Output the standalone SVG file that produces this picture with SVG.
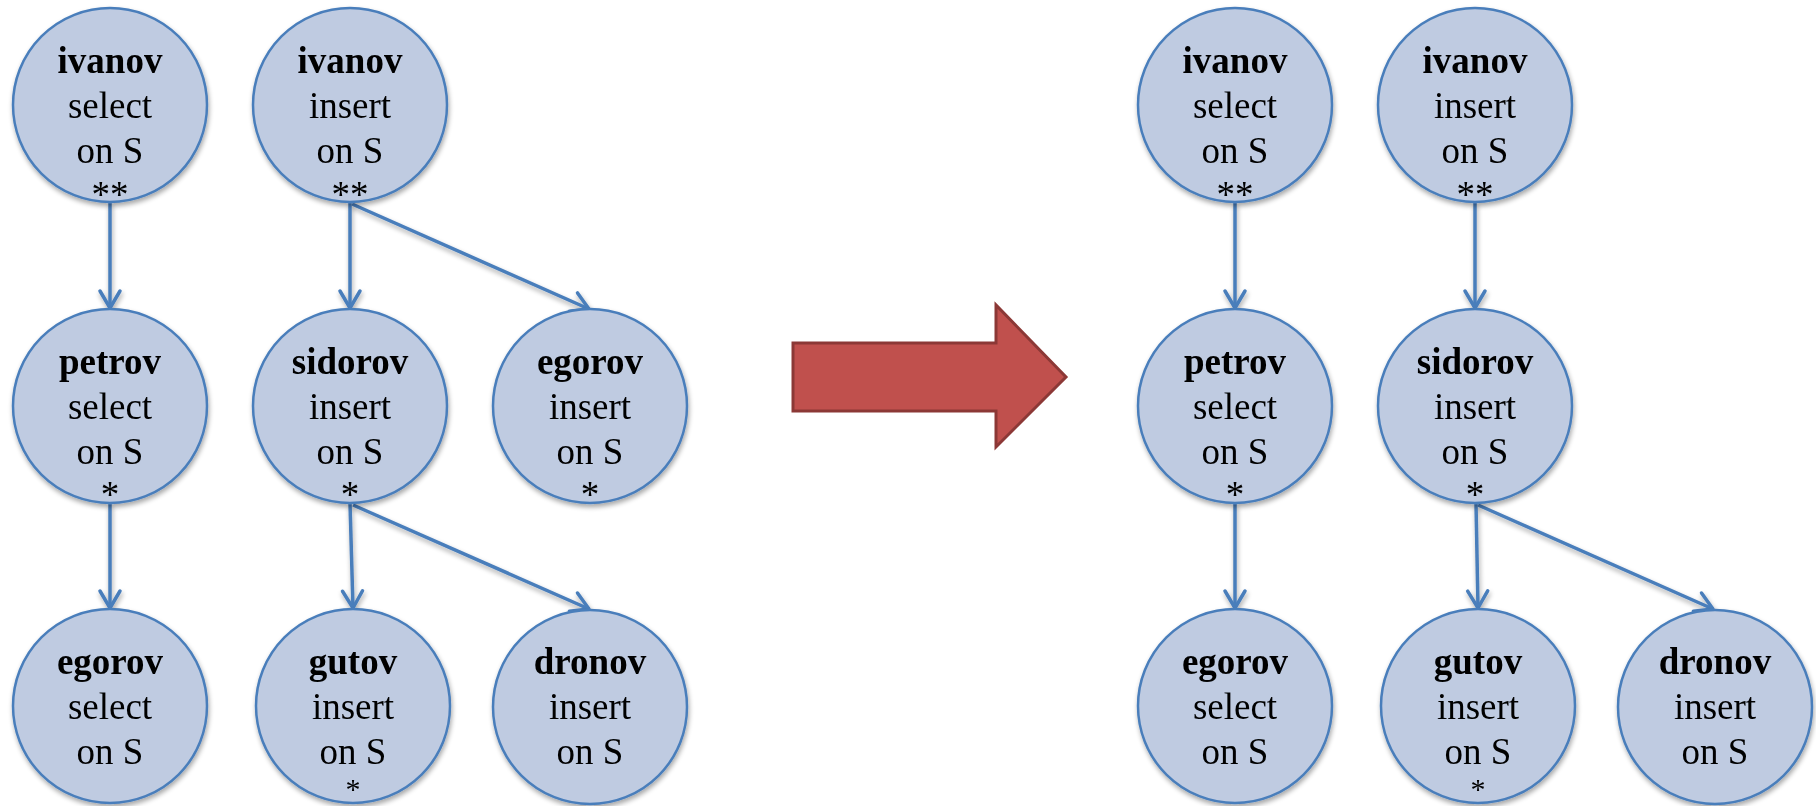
<svg xmlns="http://www.w3.org/2000/svg" width="1816" height="806" viewBox="0 0 1816 806">
  <style>
    .node circle { fill: #BFCBE1; stroke: #4A7EBB; stroke-width: 2.5; }
    .node text { font-size: 37px; fill: #000; text-anchor: middle; }
    .node text.name { font-weight: bold; }
    .node text.low { font-size: 30px; }
    .edge { stroke: #4A7EBB; stroke-width: 3.5; fill: none; marker-end: url(#open); }
  </style>
  <defs>
    <filter id="shadow" x="-20%" y="-20%" width="140%" height="140%">
      <feGaussianBlur in="SourceAlpha" stdDeviation="2.5"/>
      <feOffset dx="1" dy="3" result="blur"/>
      <feComponentTransfer><feFuncA type="linear" slope="0.35"/></feComponentTransfer>
      <feMerge><feMergeNode/><feMergeNode in="SourceGraphic"/></feMerge>
    </filter>
    <marker id="open" viewBox="-22 -13 26 26" refX="0" refY="0" markerWidth="26" markerHeight="26" markerUnits="userSpaceOnUse" orient="auto">
      <path d="M-17,-10 L0,0 L-17,10" fill="none" stroke="#4A7EBB" stroke-width="3.5" stroke-linecap="round" stroke-linejoin="round"/>
    </marker>
  </defs>

  <!-- connectors -->
  <g id="connectors" filter="url(#shadow)">
    <line class="edge" x1="110" y1="202" x2="110" y2="308"/>
    <line class="edge" x1="110" y1="503" x2="110" y2="608"/>
    <line class="edge" x1="350" y1="202" x2="350" y2="308"/>
    <line class="edge" x1="352" y1="204" x2="589" y2="309"/>
    <line class="edge" x1="350" y1="503" x2="353" y2="608"/>
    <line class="edge" x1="353" y1="505" x2="589" y2="609"/>

    <line class="edge" x1="1235" y1="202" x2="1235" y2="308"/>
    <line class="edge" x1="1235" y1="503" x2="1235" y2="608"/>
    <line class="edge" x1="1475" y1="202" x2="1475" y2="308"/>
    <line class="edge" x1="1476" y1="503" x2="1478" y2="608"/>
    <line class="edge" x1="1478" y1="505" x2="1713" y2="609"/>
  </g>

  <!-- transformation arrow -->
  <g id="transform-arrow">
    <path d="M793,343 L996,343 L996,305 L1066,377 L996,447 L996,411 L793,411 Z" fill="#C0504D" stroke="#8C3836" stroke-width="3" stroke-linejoin="miter"/>
  </g>

  <g font-family="'Liberation Serif', 'DejaVu Serif', serif">
  <!-- left graph -->
  <g id="l-ivanov-select" class="node" filter="url(#shadow)">
    <circle cx="110" cy="105" r="97"/>
    <text class="name" x="110" y="73">ivanov</text>
    <text x="110" y="118">select</text>
    <text x="110" y="163">on S</text>
    <text x="110" y="207">**</text>
  </g>
  <g id="l-petrov-select" class="node" filter="url(#shadow)">
    <circle cx="110" cy="406" r="97"/>
    <text class="name" x="110" y="374">petrov</text>
    <text x="110" y="419">select</text>
    <text x="110" y="464">on S</text>
    <text x="110" y="507">*</text>
  </g>
  <g id="l-egorov-select" class="node" filter="url(#shadow)">
    <circle cx="110" cy="706" r="97"/>
    <text class="name" x="110" y="674">egorov</text>
    <text x="110" y="719">select</text>
    <text x="110" y="764">on S</text>
  </g>
  <g id="l-ivanov-insert" class="node" filter="url(#shadow)">
    <circle cx="350" cy="105" r="97"/>
    <text class="name" x="350" y="73">ivanov</text>
    <text x="350" y="118">insert</text>
    <text x="350" y="163">on S</text>
    <text x="350" y="207">**</text>
  </g>
  <g id="l-sidorov-insert" class="node" filter="url(#shadow)">
    <circle cx="350" cy="406" r="97"/>
    <text class="name" x="350" y="374">sidorov</text>
    <text x="350" y="419">insert</text>
    <text x="350" y="464">on S</text>
    <text x="350" y="507">*</text>
  </g>
  <g id="l-gutov-insert" class="node" filter="url(#shadow)">
    <circle cx="353" cy="706" r="97"/>
    <text class="name" x="353" y="674">gutov</text>
    <text x="353" y="719">insert</text>
    <text x="353" y="764">on S</text>
    <text class="low" x="353" y="799">*</text>
  </g>
  <g id="l-egorov-insert" class="node" filter="url(#shadow)">
    <circle cx="590" cy="406" r="97"/>
    <text class="name" x="590" y="374">egorov</text>
    <text x="590" y="419">insert</text>
    <text x="590" y="464">on S</text>
    <text x="590" y="507">*</text>
  </g>
  <g id="l-dronov-insert" class="node" filter="url(#shadow)">
    <circle cx="590" cy="707" r="97"/>
    <text class="name" x="590" y="674">dronov</text>
    <text x="590" y="719">insert</text>
    <text x="590" y="764">on S</text>
  </g>

  <!-- right graph -->
  <g id="r-ivanov-select" class="node" filter="url(#shadow)">
    <circle cx="1235" cy="105" r="97"/>
    <text class="name" x="1235" y="73">ivanov</text>
    <text x="1235" y="118">select</text>
    <text x="1235" y="163">on S</text>
    <text x="1235" y="207">**</text>
  </g>
  <g id="r-petrov-select" class="node" filter="url(#shadow)">
    <circle cx="1235" cy="406" r="97"/>
    <text class="name" x="1235" y="374">petrov</text>
    <text x="1235" y="419">select</text>
    <text x="1235" y="464">on S</text>
    <text x="1235" y="507">*</text>
  </g>
  <g id="r-egorov-select" class="node" filter="url(#shadow)">
    <circle cx="1235" cy="706" r="97"/>
    <text class="name" x="1235" y="674">egorov</text>
    <text x="1235" y="719">select</text>
    <text x="1235" y="764">on S</text>
  </g>
  <g id="r-ivanov-insert" class="node" filter="url(#shadow)">
    <circle cx="1475" cy="105" r="97"/>
    <text class="name" x="1475" y="73">ivanov</text>
    <text x="1475" y="118">insert</text>
    <text x="1475" y="163">on S</text>
    <text x="1475" y="207">**</text>
  </g>
  <g id="r-sidorov-insert" class="node" filter="url(#shadow)">
    <circle cx="1475" cy="406" r="97"/>
    <text class="name" x="1475" y="374">sidorov</text>
    <text x="1475" y="419">insert</text>
    <text x="1475" y="464">on S</text>
    <text x="1475" y="507">*</text>
  </g>
  <g id="r-gutov-insert" class="node" filter="url(#shadow)">
    <circle cx="1478" cy="706" r="97"/>
    <text class="name" x="1478" y="674">gutov</text>
    <text x="1478" y="719">insert</text>
    <text x="1478" y="764">on S</text>
    <text class="low" x="1478" y="799">*</text>
  </g>
  <g id="r-dronov-insert" class="node" filter="url(#shadow)">
    <circle cx="1715" cy="707" r="97"/>
    <text class="name" x="1715" y="674">dronov</text>
    <text x="1715" y="719">insert</text>
    <text x="1715" y="764">on S</text>
  </g>
  </g>
</svg>
